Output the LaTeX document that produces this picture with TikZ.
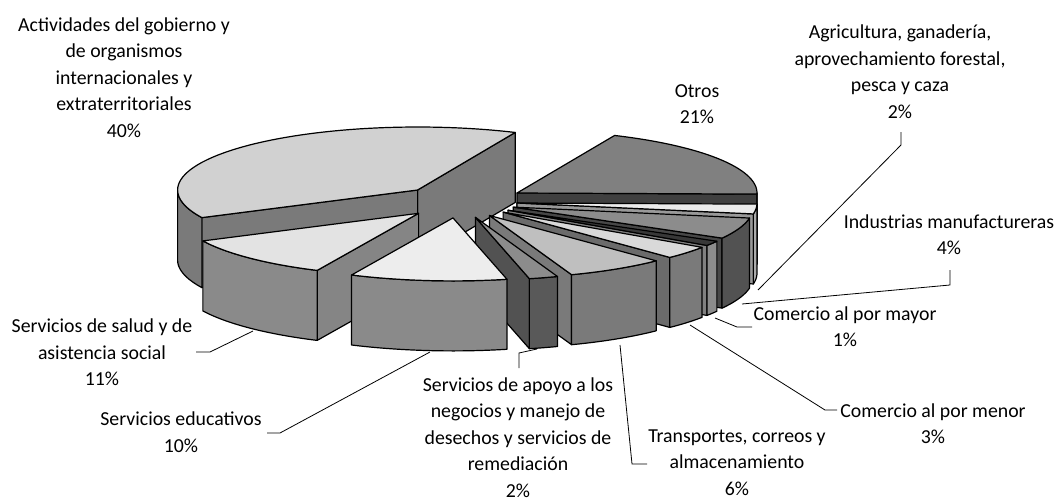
\documentclass[tikz,border=0pt]{standalone}
\usepackage{fontspec}
\setmainfont{Carlito}
\newcommand{\pieTop}[5]{%
  \filldraw[edge,fill=#5] (#1,#2) -- plot[domain=#3:#4,samples=60,variable=\t] ({#1+\RA*cos(\t)},{#2-\RB*sin(\t)}) -- cycle;}
\newcommand{\pieOuter}[5]{%
  \filldraw[edge,fill=#5] plot[domain=#3:#4,samples=40,variable=\t] ({#1+\RA*cos(\t)},{#2-\RB*sin(\t)}) -- plot[domain=#4:#3,samples=40,variable=\t] ({#1+\RA*cos(\t)},{#2+\DH-\RB*sin(\t)}) -- cycle;}
\newcommand{\pieRad}[4]{%
  \filldraw[edge,fill=#4] (#1,#2) -- ({#1+\RA*cos(#3)},{#2-\RB*sin(#3)}) -- ++(0,\DH) -- (#1,{#2+\DH}) -- cycle;}
\begin{document}
\begin{tikzpicture}[x=1pt,y=-1pt,
  edge/.style={draw=black,line width=1.2pt,line join=round},
  lbl/.style={align=center,inner sep=0pt,font=\fontsize{19.8}{26.5}\selectfont,text=black},
  leader/.style={draw=black,line width=0.8pt}]
\def\RA{240}\def\RB{63}\def\DH{70}
\useasboundingbox (0,0) rectangle (1058,501);
\fill[white] (0,0) rectangle (1058,501);

% Actividades (40%)
\pieRad{417.6}{190}{66}{black!52}
\pieRad{417.6}{190}{206}{black!52}
\pieOuter{417.6}{190}{180}{206}{black!52}
\pieTop{417.6}{190}{66}{206}{black!18}
% Otros (21%)
\pieRad{517}{193}{-1}{black!75}
\pieOuter{517}{193}{-1}{0}{black!75}
\pieTop{517}{193}{-1}{66}{black!50}
% Agricultura (2%)
\pieRad{517}{203}{-10}{black!40}
\pieOuter{517}{203}{-10}{-1}{black!33}
\pieTop{517}{203}{-10}{-1}{black!8}
% Industrias (4%)
\pieRad{513.2}{207.1}{-29.5}{black!72}
\pieOuter{513.2}{207.1}{-29.5}{-10}{black!68}
\pieTop{513.2}{207.1}{-29.5}{-10}{black!45}
% Comercio al por mayor (1%)
\pieRad{508}{210.2}{-34}{black!50}
\pieOuter{508}{210.2}{-34}{-29.5}{black!45}
\pieTop{508}{210.2}{-34}{-29.5}{black!78}
% Comercio al por menor (3%)
\pieRad{503.1}{212.1}{-46}{black!58}
\pieOuter{503.1}{212.1}{-46}{-34}{black!52}
\pieTop{503.1}{212.1}{-46}{-34}{black!15}
% Transportes (6%)
\pieRad{489.5}{215.5}{-70}{black!52}
\pieOuter{489.5}{215.5}{-70}{-46}{black!52}
\pieTop{489.5}{215.5}{-70}{-46}{black!25}
% Servicios de apoyo (2%)
\pieRad{475.4}{217.3}{-77}{black!68}
\pieOuter{475.4}{217.3}{-77}{-70}{black!65}
\pieTop{475.4}{217.3}{-77}{-70}{black!45}
% Servicios de salud (11%)
\pieRad{418.6}{213.3}{-115}{black!48}
\pieOuter{418.6}{213.3}{-154}{-115}{black!46}
\pieTop{418.6}{213.3}{-154}{-115}{black!11}
% Servicios educativos (10%)
\pieOuter{453}{217.9}{-115}{-77}{black!46}
\pieTop{453}{217.9}{-115}{-77}{black!7}

% labels
\node[lbl] (act) at (124,77.5) {Actividades del gobierno y\\de organismos\\internacionales y\\extraterritoriales\\40\%};
\node[lbl] (otros) at (697,104) {Otros\\21\%};
\node[lbl] (agr) at (900,71.5) {Agricultura, ganadería,\\aprovechamiento forestal,\\pesca y caza\\2\%};
\node[lbl] (ind) at (949,234.5) {Industrias manufactureras\\4\%};
\node[lbl] (cmay) at (845,326.5) {Comercio al por mayor\\1\%};
\node[lbl] (cmen) at (933,423.5) {Comercio al por menor\\3\%};
\node[lbl] (trans) at (737,462.5) {Transportes, correos y\\almacenamiento\\6\%};
\node[lbl] (apoyo) at (518,437.5) {Servicios de apoyo a los\\negocios y manejo de\\desechos y servicios de\\remediación\\2\%};
\node[lbl] (edu) at (181,432) {Servicios educativos\\10\%};
\node[lbl] (salud) at (102,352.5) {Servicios de salud y de\\asistencia social\\11\%};

% leader lines
\coordinate (agrA) at (901,132); \coordinate (agrB) at (901,145); \coordinate (agrC) at (758,290);
\coordinate (indA) at (950,270); \coordinate (indB) at (950,285); \coordinate (indC) at (742,304);
\coordinate (cmayA) at (752,327); \coordinate (cmayB) at (737,327); \coordinate (cmayC) at (715,318);
\coordinate (cmenA) at (837,410); \coordinate (cmenB) at (825,410); \coordinate (cmenC) at (690,325);
\coordinate (transA) at (647,464); \coordinate (transB) at (632,464); \coordinate (transC) at (620,345);
\coordinate (apoyoA) at (519,368); \coordinate (apoyoB) at (519,353); \coordinate (apoyoC) at (537,349);
\coordinate (eduA) at (267,433); \coordinate (eduB) at (280,433); \coordinate (eduC) at (430,352);
\coordinate (saludA) at (196,352); \coordinate (saludB) at (210,352); \coordinate (saludC) at (253,331);
\draw[leader] (agrA) -- (agrB) -- (agrC);
\draw[leader] (indA) -- (indB) -- (indC);
\draw[leader] (cmayA) -- (cmayB) -- (cmayC);
\draw[leader] (cmenA) -- (cmenB) -- (cmenC);
\draw[leader] (transA) -- (transB) -- (transC);
\draw[leader] (apoyoA) -- (apoyoB) -- (apoyoC);
\draw[leader] (eduA) -- (eduB) -- (eduC);
\draw[leader] (saludA) -- (saludB) -- (saludC);
\end{tikzpicture}
\end{document}
